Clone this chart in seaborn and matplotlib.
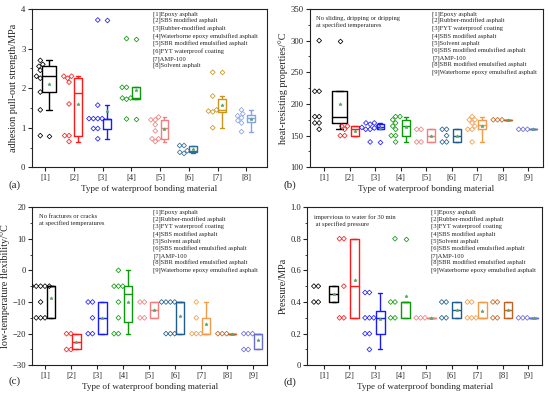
import numpy as np
import pandas as pd
import matplotlib
matplotlib.use("Agg")
import matplotlib.pyplot as plt
import seaborn as sns
from matplotlib.ticker import MultipleLocator, FixedLocator, FixedFormatter

# ---------------- data ----------------
labels_8 = ["[1]", "[2]", "[3]", "[4]", "[5]", "[6]", "[7]", "[8]"]
labels_9 = ["[1]", "[2]", "[3]", "[4]", "[5]", "[6]", "[7]", "[8]", "[9]"]

legend_a = ["[1]Epoxy asphalt", "[2]SBS modified asphalt", "[3]Rubber-modified asphalt",
            "[4]Waterborne epoxy emulsified asphalt", "[5]SBR modified emulsified asphalt",
            "[6]FYT waterproof coating", "[7]AMP-100", "[8]Solvent asphalt"]
legend_bcd = ["[1]Epoxy asphalt", "[2]Rubber-modified asphalt", "[3]FYT waterproof coating",
              "[4]SBS modified asphalt", "[5]Solvent asphalt", "[6]SBS modified emulsified asphalt",
              "[7]AMP-100", "[8]SBR modified emulsified asphalt",
              "[9]Waterborne epoxy emulsified asphalt"]

adhesion = [
    [0.8, 1.45, 1.9, 2.25, 2.3, 2.45, 2.55, 2.6, 2.7],
    [0.65, 0.8, 0.8, 1.6, 2.15, 2.25, 2.3, 2.3],
    [0.72, 0.98, 0.98, 1.23, 1.23, 1.23, 1.23, 1.57, 3.72],
    [1.22, 1.72, 1.75, 1.75, 2.02, 2.02, 3.25],
    [0.65, 0.72, 0.72, 0.92, 1.08, 1.2, 1.2, 1.27],
    [0.35, 0.38, 0.42, 0.55, 0.55],
    [1.0, 1.4, 1.42, 1.45, 1.8, 2.4],
    [0.9, 1.12, 1.18, 1.25, 1.3, 1.35, 1.45],
]
heat = [
    [160, 170, 170, 180, 180, 220, 220, 300],
    [150, 150, 160, 165, 165],
    [140, 160, 160, 162, 163, 165, 168, 170, 170],
    [140, 150, 150, 160, 165, 170, 175, 180, 180],
    [140, 140, 160, 160],
    [140, 140, 150, 160, 160],
    [140, 160, 160, 165, 170, 175, 175, 180],
    [175, 175, 175],
    [160, 160, 160],
]
lowtemp = [
    [-15, -15, -15, -10, -5, -5, -5, -5, -5],
    [-25, -25, -20, -20],
    [-20, -20, -15, -10, -10],
    [-20, -20, -15, -10, -5, -5, -5, 0],
    [-15, -15, -10, -10],
    [-20, -20, -20, -10, -10, -10, -10],
    [-20, -20, -20, -15, -10],
    [-20, -20, -20],
    [-25, -25, -20, -20, -20],
]
pressure = [
    [0.4, 0.4, 0.5, 0.5],
    [0.3, 0.3, 0.5, 0.8, 0.8],
    [0.1, 0.2, 0.2, 0.3, 0.3, 0.3, 0.46, 0.46],
    [0.3, 0.3, 0.4, 0.4, 0.8],
    [0.3, 0.3, 0.3],
    [0.3, 0.3, 0.4, 0.4],
    [0.3, 0.3, 0.3, 0.4, 0.4],
    [0.3, 0.3, 0.4, 0.4],
    [0.3, 0.3, 0.3],
]

colors_a = ["#000000", "#ff1a1a", "#1a1aff", "#0a9a0a", "#f07f7f", "#2f6c9c", "#c8961e", "#86a3e4"]
colors_bcd = ["#000000", "#ff1a1a", "#1a1aff", "#0a9a0a", "#f07f7f", "#1f5d8c", "#f29b48", "#c0621e", "#6b6bd4"]

# ---------------- style ----------------
sns.set_theme(style="ticks")
plt.rcParams['font.family'] = ['Liberation Serif', 'DejaVu Serif']
plt.rcParams['axes.linewidth'] = 0.8
plt.rcParams['xtick.major.width'] = 0.8
plt.rcParams['ytick.major.width'] = 0.8
plt.rcParams['ytick.minor.width'] = 0.6
plt.rcParams['xtick.major.size'] = 3
plt.rcParams['ytick.major.size'] = 3
plt.rcParams['ytick.minor.size'] = 1.8
plt.rcParams['xtick.direction'] = 'out'
plt.rcParams['ytick.direction'] = 'out'

fig = plt.figure(figsize=(5.5, 3.96), dpi=100)

TICK_FS = 6.2
XLAB_FS = 6.6
YLAB_FS = 7.3
LEG_FS = 4.7


def draw_panel(ax, values, labels, colors, xlim, first_box, box_off, box_w, pt_off):
    rows = []
    for i, vals in enumerate(values):
        for v in vals:
            rows.append({"cat": labels[i], "pos": i + 1, "val": v})
    df = pd.DataFrame(rows)
    df["bpos"] = df["pos"] + box_off
    df["spos"] = df["pos"] + pt_off
    pal = dict(zip(labels, colors))

    n0 = len(ax.collections)
    sns.swarmplot(data=df, x="spos", y="val", hue="cat", hue_order=labels, palette=pal,
                  native_scale=True, marker="D", size=1.6, linewidth=0.4,
                  legend=False, ax=ax)
    for coll in ax.collections[n0:]:
        fc = coll.get_facecolors()
        coll.set_edgecolors(fc)
        coll.set_facecolors("none")
        coll.set_linewidth(0.55)
        coll.set_sizes([6.0])

    box_kws = dict(fill=False, native_scale=True, dodge=False, legend=False,
                   linewidth=1.0, showmeans=True, whis=1.5,
                   meanprops=dict(marker="*", markersize=2.5, markeredgewidth=0.4),
                   flierprops=dict(marker="D", markersize=2.4, markerfacecolor="none",
                                   markeredgewidth=0.55))
    first = df[df["pos"] == 1].copy()
    first["bpos"] = 1 + first_box[0]
    sns.boxplot(data=first, x="bpos", y="val", hue="cat", hue_order=labels[:1],
                palette={labels[0]: colors[0]}, width=first_box[1], ax=ax, **box_kws)
    rest = df[df["pos"] > 1]
    sns.boxplot(data=rest, x="bpos", y="val", hue="cat", hue_order=labels[1:],
                palette=pal, width=box_w, ax=ax, **box_kws)

    ax.set_xlim(*xlim)
    ax.set_xticks(np.arange(1, len(labels) + 1))
    ax.set_xticklabels(labels, fontsize=TICK_FS)
    ax.set_xlabel("Type of waterproof bonding material", fontsize=XLAB_FS, labelpad=2)
    ax.tick_params(axis="y", labelsize=TICK_FS, pad=1.5)
    ax.tick_params(axis="x", pad=2)
    for s in ax.spines.values():
        s.set_visible(True)
        s.set_color("#222222")


# (a)
ax_a = fig.add_axes([0.0576, 0.5775, 0.428, 0.400])
draw_panel(ax_a, adhesion, labels_8, colors_a, (0.53, 8.72), (0.13, 0.47), 0.15, 0.27, -0.17)
ax_a.set_ylim(0, 4)
ax_a.yaxis.set_major_locator(MultipleLocator(1))
ax_a.yaxis.set_minor_locator(MultipleLocator(0.5))
ax_a.set_ylabel("adhesion pull-out strength/MPa", fontsize=YLAB_FS, labelpad=2)
ax_a.text(0.515, 0.985, "\n".join(legend_a), transform=ax_a.transAxes, fontsize=LEG_FS,
          va="top", ha="left", linespacing=1.32)

# (b)
ax_b = fig.add_axes([0.5636, 0.5775, 0.4236, 0.400])
draw_panel(ax_b, heat, labels_9, colors_bcd, (0.44, 9.58), (0.6, 0.62), 0.2, 0.3, -0.2)
ax_b.set_ylim(100, 350)
ax_b.yaxis.set_major_locator(MultipleLocator(50))
ax_b.yaxis.set_minor_locator(MultipleLocator(25))
ax_b.set_ylabel("heat-resisting properties/\u00b0C", fontsize=YLAB_FS, labelpad=2)
ax_b.text(0.025, 0.955, "No sliding, dripping or dripping\nat specified temperatures",
          transform=ax_b.transAxes, fontsize=LEG_FS, va="top", ha="left", linespacing=1.32)
ax_b.text(0.525, 0.985, "\n".join(legend_bcd), transform=ax_b.transAxes, fontsize=LEG_FS,
          va="top", ha="left", linespacing=1.32)

# (c)
ax_c = fig.add_axes([0.0587, 0.0775, 0.427, 0.3997])
draw_panel(ax_c, lowtemp, labels_9, colors_bcd, (0.5, 9.55), (0.22, 0.32), 0.2, 0.32, -0.18)
ax_c.set_ylim(-30, 20)
ax_c.yaxis.set_major_locator(MultipleLocator(10))
ax_c.yaxis.set_minor_locator(MultipleLocator(5))
ax_c.set_ylabel("low-temperature flexibility/\u00b0C", fontsize=YLAB_FS, labelpad=2)
ax_c.text(0.03, 0.955, "No fractures or cracks\nat specified temperatures",
          transform=ax_c.transAxes, fontsize=LEG_FS, va="top", ha="left", linespacing=1.32)
ax_c.text(0.515, 0.985, "\n".join(legend_bcd), transform=ax_c.transAxes, fontsize=LEG_FS,
          va="top", ha="left", linespacing=1.32)

# (d)
ax_d = fig.add_axes([0.5587, 0.0775, 0.4268, 0.3997])
draw_panel(ax_d, pressure, labels_9, colors_bcd, (0.35, 9.53), (0.39, 0.35), 0.2, 0.35, -0.22)
ax_d.set_ylim(0, 1.0)
ax_d.yaxis.set_major_locator(FixedLocator([0, 0.2, 0.4, 0.6, 0.8, 1.0]))
ax_d.yaxis.set_major_formatter(FixedFormatter(["0", "0.2", "0.4", "0.6", "0.8", "1.0"]))
ax_d.yaxis.set_minor_locator(MultipleLocator(0.1))
ax_d.set_ylabel("Pressure/MPa", fontsize=YLAB_FS, labelpad=2)
ax_d.text(0.03, 0.955, "impervious to water for 30 min\n at specified pressure",
          transform=ax_d.transAxes, fontsize=LEG_FS, va="top", ha="left", linespacing=1.32)
ax_d.text(0.525, 0.985, "\n".join(legend_bcd), transform=ax_d.transAxes, fontsize=LEG_FS,
          va="top", ha="left", linespacing=1.32)

for lab, (x, y) in zip(["(a)", "(b)", "(c)", "(d)"],
                       [(0.027, 0.532), (0.527, 0.532), (0.027, 0.038), (0.527, 0.035)]):
    fig.text(x, y, lab, fontsize=8, ha="center", va="center")

fig.savefig("out.png", dpi=100)
